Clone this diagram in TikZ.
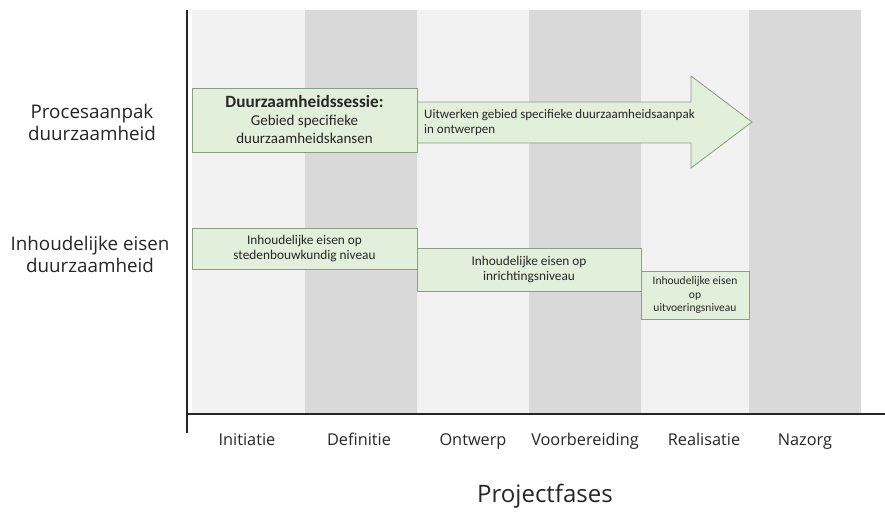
\documentclass[tikz,border=0pt]{standalone}
\usepackage{fontspec}
\setmainfont{Open Sans}
\newfontfamily\boxfont{Carlito}
\definecolor{lightcol}{HTML}{F2F2F2}
\definecolor{darkcol}{HTML}{D9D9D9}
\definecolor{gfill}{HTML}{E2EFDA}
\definecolor{gline}{HTML}{8A9F7E}
\definecolor{txt}{HTML}{262626}
\tikzset{
  gbox/.style={draw=gline, fill=gfill, line width=0.8pt, rectangle, inner sep=0pt, align=center, text=txt},
  rowlabel/.style={align=center, text=txt, font=\fontsize{18.8}{22}\selectfont},
  phaselabel/.style={text=txt, font=\fontsize{16.3}{19}\selectfont, anchor=base, inner sep=0pt},
  axisline/.style={draw=txt, line width=1.3pt}
}
\begin{document}
\begin{tikzpicture}[x=1pt,y=-1pt]
\useasboundingbox (0,0) rectangle (885,512);
\fill[white] (0,0) rectangle (885,512);
\foreach \xa/\xb/\c in {192/305/lightcol, 305/417/darkcol, 417/529/lightcol, 529/641/darkcol, 641/749/lightcol, 749/861/darkcol}
  \fill[\c] (\xa,10) rectangle (\xb,413);
% arrow
\draw[draw=gline, fill=gfill, line width=0.8pt] (417,102) -- (691,102) -- (691,76) -- (752,122) -- (691,168) -- (691,143) -- (417,143) -- cycle;
\node[anchor=west, align=left, inner sep=0pt, text=txt, font=\boxfont\fontsize{13}{15}\selectfont] (arrowtext) at (424,122.5) {Uitwerken gebied specifieke duurzaamheidsaanpak\\in ontwerpen};
% top box
\node[gbox, minimum width=225pt, minimum height=64pt, font=\boxfont\fontsize{15}{18}\selectfont] (sessie) at (304.5,120)
  {{\bfseries\fontsize{17.2}{18}\selectfont Duurzaamheidssessie:}\\Gebied specifieke\\duurzaamheidskansen};
% bottom boxes
\node[gbox, minimum width=225pt, minimum height=41pt, font=\boxfont\fontsize{13.3}{15.5}\selectfont] (stedenbouw) at (304.5,248.5)
  {Inhoudelijke eisen op\\stedenbouwkundig niveau};
\node[gbox, minimum width=224pt, minimum height=43pt, font=\boxfont\fontsize{13.3}{15.5}\selectfont] (inrichting) at (529,269.5)
  {Inhoudelijke eisen op\\inrichtingsniveau};
\node[gbox, minimum width=108pt, minimum height=48pt, font=\boxfont\fontsize{11.5}{13.5}\selectfont] (uitvoering) at (695,295)
  {Inhoudelijke eisen\\op\\uitvoeringsniveau};
% axes
\coordinate (ytop) at (187,10);
\coordinate (ybot) at (187,433);
\coordinate (xl) at (187,414);
\coordinate (xr) at (885,414);
\draw[axisline] (ytop) -- (ybot);
\draw[axisline] (xl) -- (xr);
% row labels
\node[rowlabel] (proces) at (92,122) {Procesaanpak\\duurzaamheid};
\node[rowlabel] (inhoud) at (90,254) {Inhoudelijke eisen\\duurzaamheid};
% phases
\node[phaselabel] (p1) at (247,445) {Initiatie};
\node[phaselabel] (p2) at (359,445) {Definitie};
\node[phaselabel] (p3) at (473,445) {Ontwerp};
\node[phaselabel] (p4) at (585,445) {Voorbereiding};
\node[phaselabel] (p5) at (704,445) {Realisatie};
\node[phaselabel] (p6) at (805,445) {Nazorg};
\node[text=txt, font=\fontsize{24}{28}\selectfont] (fases) at (545,496) {Projectfases};
\end{tikzpicture}
\end{document}
